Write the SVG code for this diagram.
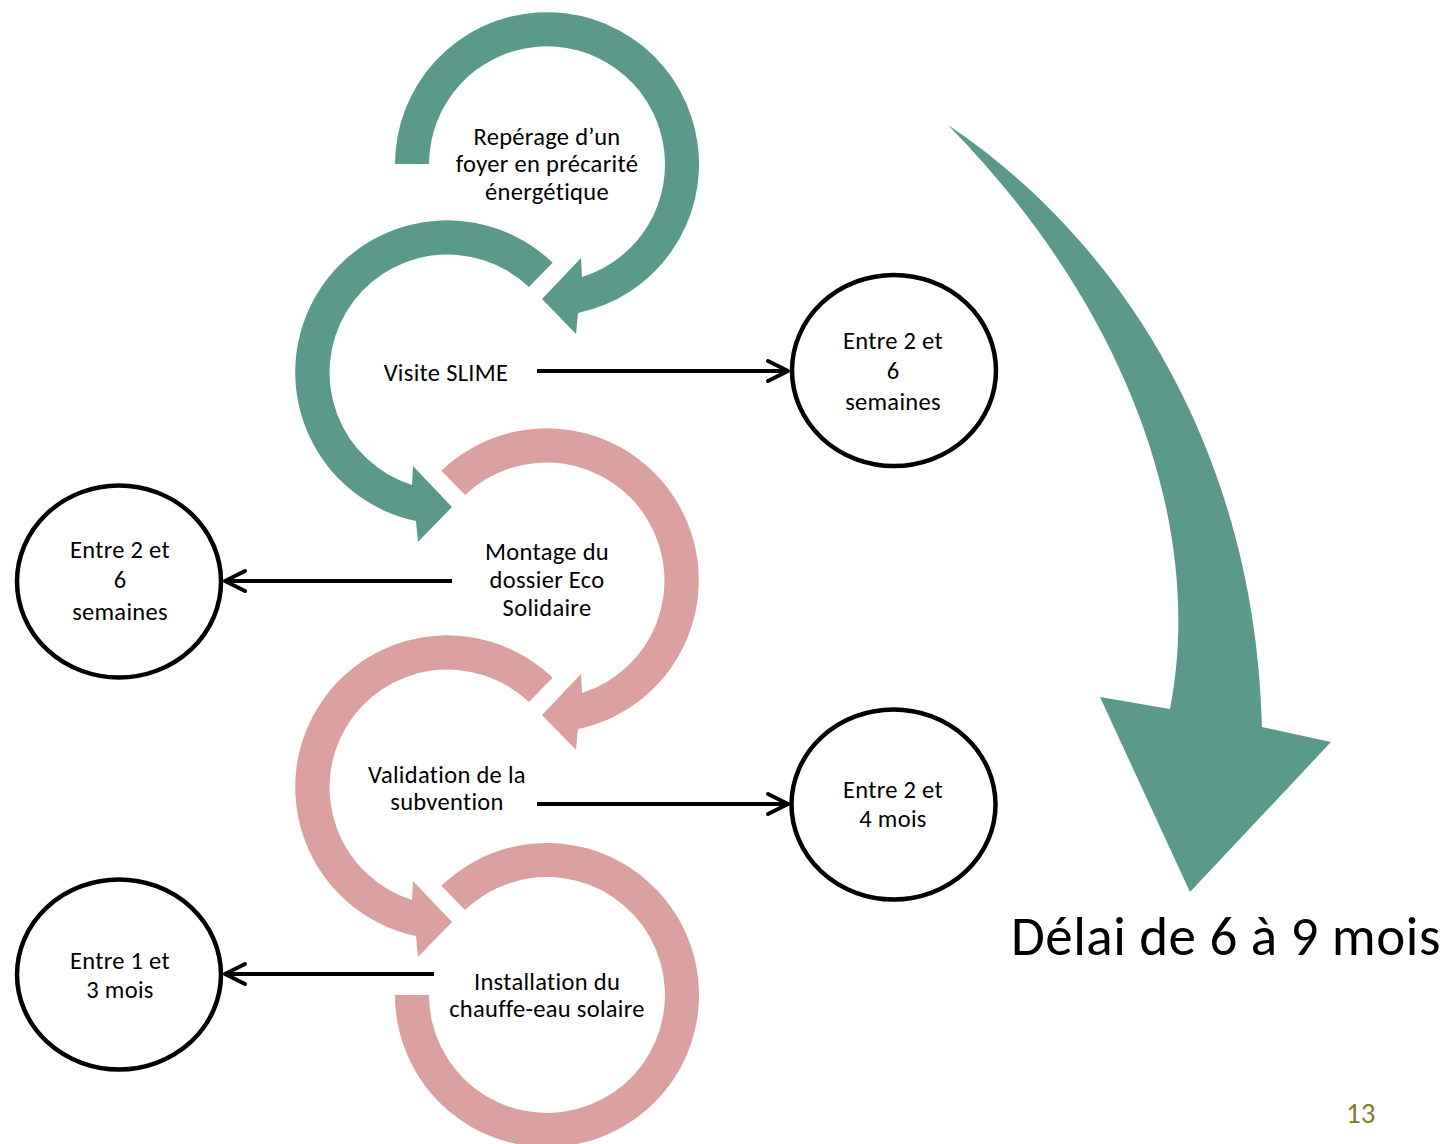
<svg xmlns="http://www.w3.org/2000/svg" width="1447" height="1144" viewBox="0 0 1447 1144">
  <defs>
    <style>
      .teal { fill: #5B9A8B; }
      .pink { fill: #DBA1A1; }
      .t { font-family: Carlito, Lato, "Liberation Sans", sans-serif; font-size: 24.5px; letter-spacing: 0.3px; fill: #000; text-anchor: middle; }
      .ell { fill: #fff; stroke: #000; stroke-width: 4.5; }
      .conn { fill: none; stroke: #000; stroke-width: 4; }
      .big { font-family: Carlito, Lato, "Liberation Sans", sans-serif; font-size: 55px; letter-spacing: 0.5px; fill: #000; }
      .num { font-family: Carlito, Lato, "Liberation Sans", sans-serif; font-size: 29px; fill: #857A2C; }
    </style>
    <marker id="chev" markerUnits="userSpaceOnUse" viewBox="-24 -13 28 26" markerWidth="28" markerHeight="26" refX="0" refY="0" orient="auto">
      <path d="M-20,-10 L0,0 L-20,10" fill="none" stroke="#000" stroke-width="4" stroke-linecap="round" stroke-linejoin="round"/>
    </marker>
  </defs>
  <rect width="1447" height="1144" fill="#fff"/>

  <g id="step1">
    <path class="teal" d="M395,164 A152,152 0 1 1 578,313 L576,334 L542,299 L581,258 L582,277 A118,118 0 1 0 429,164 Z"/>
    <text class="t"><tspan x="547" y="145">Repérage d’un</tspan><tspan x="547" y="172">foyer en précarité</tspan><tspan x="547" y="200">énergétique</tspan></text>
  </g>
  <g id="step2">
    <path class="teal" d="M552.6,262.7 A152,152 0 1 0 416,521 L418,542 L452,507 L413,466 L412,485 A118,118 0 1 1 529,287.1 Z"/>
    <text class="t"><tspan x="446" y="381">Visite SLIME</tspan></text>
  </g>
  <g id="step3">
    <path class="pink" d="M441.4,470.7 A152,152 0 1 1 578,729 L576,750 L542,715 L581,674 L582,693 A118,118 0 1 0 465,495.1 Z"/>
    <text class="t"><tspan x="547" y="560">Montage du</tspan><tspan x="547" y="588">dossier Eco</tspan><tspan x="547" y="616">Solidaire</tspan></text>
  </g>
  <g id="step4">
    <path class="pink" d="M552.6,677.7 A152,152 0 1 0 416,936 L418,957 L452,922 L413,881 L412,900 A118,118 0 1 1 529,702.1 Z"/>
    <text class="t"><tspan x="447" y="783">Validation de la</tspan><tspan x="447" y="810">subvention</tspan></text>
  </g>
  <g id="step5">
    <path class="pink" d="M441.4,885.7 A152,152 0 1 1 395,995 L429,995 A118,118 0 1 0 465,910.1 Z"/>
    <text class="t"><tspan x="547" y="990">Installation du</tspan><tspan x="547" y="1017">chauffe-eau solaire</tspan></text>
  </g>

  <g id="delay1">
    <ellipse class="ell" cx="894" cy="370.5" rx="102" ry="95.5"/>
    <text class="t"><tspan x="893" y="349">Entre 2 et</tspan><tspan x="893" y="379">6</tspan><tspan x="893" y="410">semaines</tspan></text>
  </g>
  <g id="delay2">
    <ellipse class="ell" cx="119" cy="581.5" rx="102" ry="96"/>
    <text class="t"><tspan x="120" y="558">Entre 2 et</tspan><tspan x="120" y="588">6</tspan><tspan x="120" y="620">semaines</tspan></text>
  </g>
  <g id="delay3">
    <ellipse class="ell" cx="893.5" cy="804.5" rx="102" ry="95"/>
    <text class="t"><tspan x="893" y="798">Entre 2 et</tspan><tspan x="893" y="827">4 mois</tspan></text>
  </g>
  <g id="delay4">
    <ellipse class="ell" cx="119" cy="974.5" rx="102" ry="95"/>
    <text class="t"><tspan x="120" y="969">Entre 1 et</tspan><tspan x="120" y="998">3 mois</tspan></text>
  </g>

  <g id="connectors">
    <line class="conn" x1="537" y1="371" x2="788" y2="371" marker-end="url(#chev)"/>
    <line class="conn" x1="452" y1="581" x2="225" y2="581" marker-end="url(#chev)"/>
    <line class="conn" x1="537" y1="804" x2="788" y2="804" marker-end="url(#chev)"/>
    <line class="conn" x1="434" y1="974" x2="225" y2="974" marker-end="url(#chev)"/>
  </g>

  <g id="total">
    <path class="teal" d="M948,125 C1120,240 1255,450 1262,727 L1331,742 L1190,892 L1100,697 L1170,709 C1205,530 1130,310 948,125 Z"/>
    <text class="big" x="1011" y="955">Délai de 6 à 9 mois</text>
  </g>
  <text class="num" x="1346" y="1123">13</text>
</svg>
